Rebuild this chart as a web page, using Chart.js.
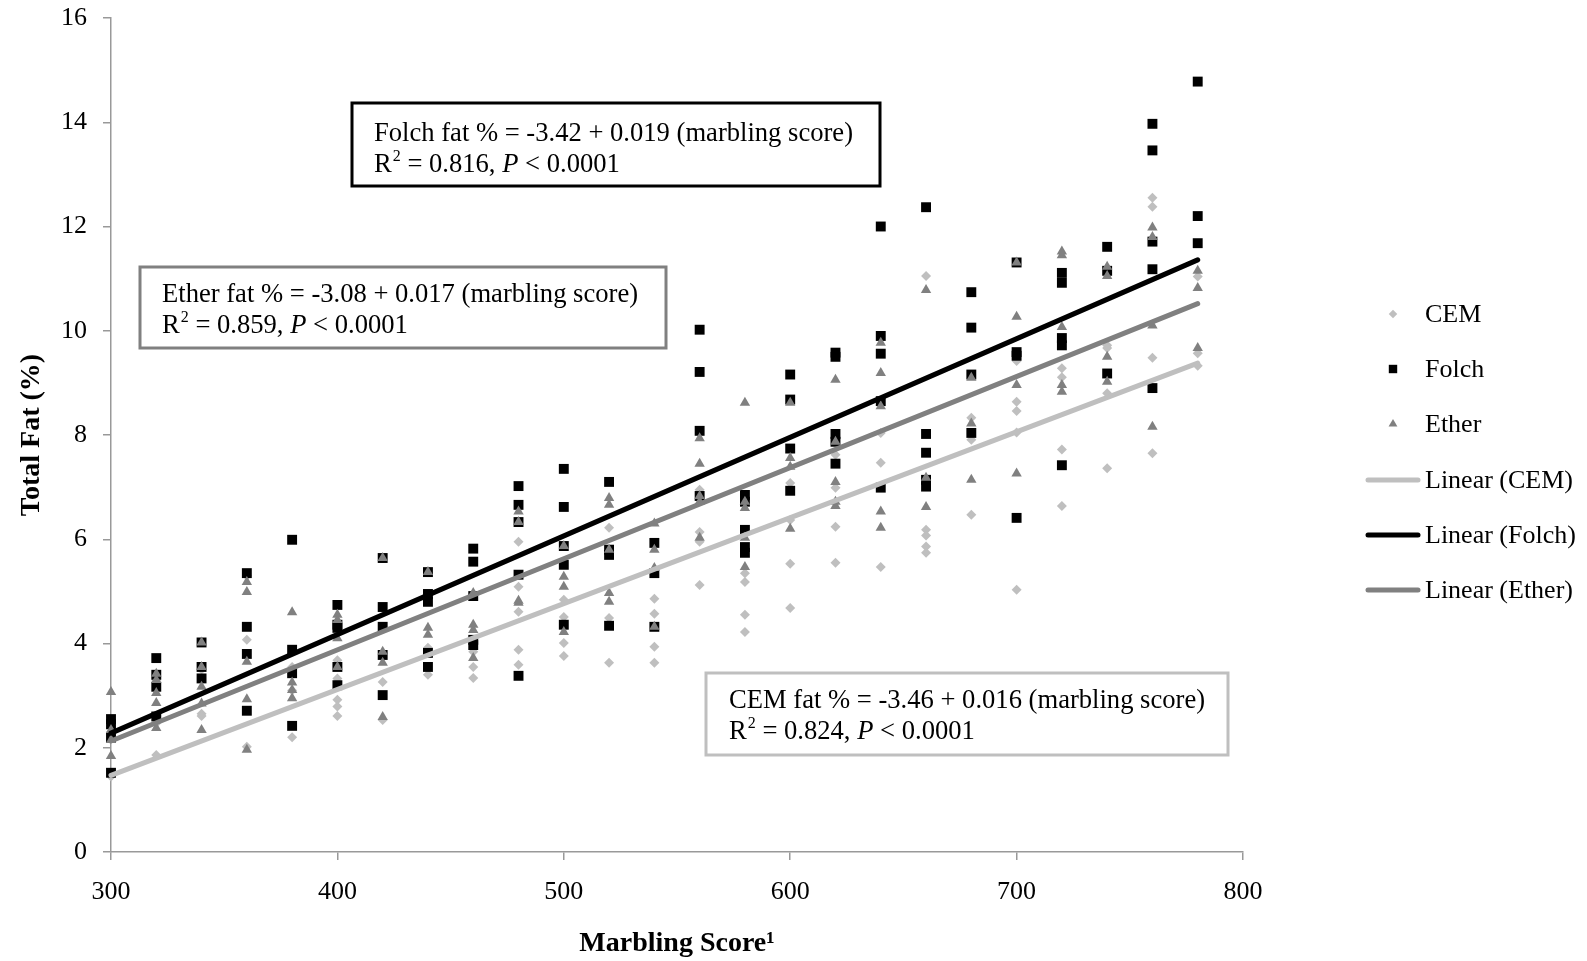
<!DOCTYPE html>
<html>
<head>
<meta charset="utf-8">
<script src="https://cdn.jsdelivr.net/npm/chart.js@4.4.1/dist/chart.umd.min.js"></script>
<style>
html,body{margin:0;padding:0;background:#fff;}
#wrap{width:1587px;height:961px;position:relative;}
</style>
</head>
<body>
<div id="wrap"><canvas id="c" width="1587" height="961"></canvas></div>
<script>
// ---- data ----
const marblingScores = [300,320,340,360,380,400,420,440,460,480,500,520,540,560,580,600,620,640,660,680,700,720,740,760,780];

const cemFat = [
  [1.45, 2.3],
  [3.3, 2.47, 1.86],
  [3.5, 2.65, 2.61],
  [5.3, 4.07, 2.02],
  [3.55, 3.1, 2.2],
  [3.68, 3.33, 2.92, 2.79, 2.61],
  [3.26, 2.53],
  [3.92, 3.4],
  [3.84, 3.55, 3.34],
  [5.95, 5.09, 4.61, 3.88, 3.59],
  [4.84, 4.51, 4.01, 3.76],
  [6.22, 4.49, 3.63],
  [4.86, 4.57, 3.94, 3.63],
  [6.95, 6.14, 5.95, 5.12],
  [5.35, 5.18, 4.55, 4.22],
  [7.08, 6.37, 5.53, 4.68],
  [7.62, 6.99, 6.24, 5.55],
  [8.04, 7.47, 5.47],
  [11.05, 6.18, 6.07, 5.86, 5.74],
  [8.33, 7.91, 6.47],
  [9.42, 8.64, 8.46, 8.05, 5.03],
  [9.28, 9.11, 7.72, 6.64],
  [9.72, 9.67, 8.8, 7.36],
  [12.55, 12.38, 9.48, 7.65],
  [11.04, 9.57, 9.33]
];

const folchFat = [
  [2.55, 2.45, 2.19, 1.52],
  [3.72, 3.4, 3.17, 2.6],
  [4.02, 3.55, 3.33],
  [5.35, 4.32, 3.8, 2.71],
  [5.99, 3.88, 3.43, 2.42],
  [4.74, 4.36, 4.3, 3.55, 3.2],
  [5.64, 4.7, 4.32, 3.78, 3.01],
  [5.37, 4.95, 4.8, 3.82, 3.55],
  [5.82, 5.57, 4.91, 4.07, 3.97],
  [7.02, 6.66, 6.33, 5.32, 3.38],
  [7.35, 6.62, 5.87, 5.51, 4.36],
  [7.1, 5.8, 5.7, 4.34],
  [5.93, 5.35, 4.32],
  [10.02, 9.21, 8.08, 6.83],
  [6.85, 6.72, 6.18, 5.85, 5.74],
  [9.16, 8.68, 7.74, 6.93],
  [9.58, 9.5, 8.02, 7.87, 7.45],
  [12.0, 9.9, 9.56, 8.65, 6.99],
  [12.37, 8.02, 7.66, 7.14, 7.01],
  [10.74, 10.06, 9.16, 8.04],
  [11.31, 9.59, 9.52, 6.41],
  [11.11, 10.92, 9.86, 9.72, 7.42],
  [11.61, 11.15, 9.18],
  [13.97, 13.46, 11.71, 11.18, 8.9],
  [14.78, 12.2, 11.68]
];

const etherFat = [
  [3.07, 2.34, 2.15, 1.84],
  [3.42, 3.3, 3.05, 2.86, 2.38],
  [4.02, 3.55, 3.17, 2.85, 2.34],
  [5.18, 4.99, 3.65, 2.93, 1.96],
  [4.6, 3.25, 3.11, 2.95],
  [4.55, 4.45, 4.1, 3.55],
  [5.64, 3.84, 3.63, 2.59],
  [5.37, 4.3, 4.17],
  [4.97, 4.36, 4.26, 3.72],
  [6.53, 6.33, 4.82, 4.78],
  [5.87, 5.28, 5.09, 4.22],
  [6.79, 6.66, 5.8, 4.97, 4.8],
  [6.3, 5.8, 5.45, 4.32],
  [7.94, 7.45, 6.83, 6.72, 6.03],
  [8.62, 6.72, 6.6, 6.03, 5.47],
  [8.62, 7.56, 7.39, 6.2],
  [9.06, 7.87, 7.1, 6.72, 6.64],
  [9.77, 9.19, 8.55, 6.53, 6.22],
  [10.78, 7.18, 6.62],
  [9.1, 8.22, 7.14],
  [11.31, 10.27, 8.96, 7.26],
  [11.52, 11.45, 10.07, 8.96, 8.83],
  [11.23, 11.05, 9.5, 9.02],
  [11.98, 11.8, 10.1, 8.16],
  [11.15, 10.82, 9.67]
];

// trend line end points (x = first / last marbling score)
const trendX = [300, 780];
const cemTrend = [1.47, 9.38];
const folchTrend = [2.28, 11.36];
const etherTrend = [2.13, 10.52];

const seriesNames = ['CEM', 'Folch', 'Ether'];
const trendNames = ['Linear (CEM)', 'Linear (Folch)', 'Linear (Ether)'];
const equationTexts = [
  'Folch fat % = -3.42 + 0.019 (marbling score)',
  'Ether fat % = -3.08 + 0.017 (marbling score)',
  'CEM fat % = -3.46 + 0.016 (marbling score)'
];
const r2Texts = ['0.816', '0.859', '0.824'];
const pTexts = ['< 0.0001', '< 0.0001', '< 0.0001'];
const xTicks = [300, 400, 500, 600, 700, 800];
const yTicks = [0, 2, 4, 6, 8, 10, 12, 14, 16];
const xAxisTitle = 'Marbling Score\u00B9';
const yAxisTitle = 'Total Fat (%)';

// ---- build chart data ----
function toPoints(cols) {
  const pts = [];
  marblingScores.forEach((s, i) => cols[i].forEach(v => pts.push({x: s, y: v})));
  return pts;
}
function trendPoints(ys) { return trendX.map((x, i) => ({x: x, y: ys[i]})); }

const FONT = "'Liberation Serif', 'Times New Roman', serif";
const C_CEM = '#bfbfbf', C_FOLCH = '#000000', C_ETHER = '#808080';

const datasets = [
  {label: seriesNames[0], data: toPoints(cemFat), pointStyle: 'rectRot', pointRadius: 5, backgroundColor: C_CEM, borderColor: C_CEM, pointBorderWidth: 0, showLine: false, order: 5, clip: false},
  {label: seriesNames[1], data: toPoints(folchFat), pointStyle: 'rect', pointRadius: 7, backgroundColor: C_FOLCH, borderColor: C_FOLCH, pointBorderWidth: 0, showLine: false, order: 4, clip: false},
  {label: seriesNames[2], data: toPoints(etherFat), pointStyle: 'triangle', pointRadius: 6, backgroundColor: C_ETHER, borderColor: C_ETHER, pointBorderWidth: 0, showLine: false, order: 3, clip: false},
  {label: trendNames[0], data: trendPoints(cemTrend), showLine: true, pointRadius: 0, borderColor: C_CEM, borderWidth: 5, borderCapStyle: 'round', fill: false, order: 2, clip: false},
  {label: trendNames[1], data: trendPoints(folchTrend), showLine: true, pointRadius: 0, borderColor: C_FOLCH, borderWidth: 5, borderCapStyle: 'round', fill: false, order: 1, clip: false},
  {label: trendNames[2], data: trendPoints(etherTrend), showLine: true, pointRadius: 0, borderColor: C_ETHER, borderWidth: 5, borderCapStyle: 'round', fill: false, order: 0, clip: false}
];

// ---- annotation boxes + legend plugin ----
const boxStyles = [
  {x: 352, y: 103, w: 528, h: 83, color: '#000000', tx: 374, b1: 141, b2: 172},
  {x: 140, y: 267, w: 526, h: 81, color: '#808080', tx: 162, b1: 302, b2: 333},
  {x: 706, y: 673, w: 522, h: 82, color: '#bfbfbf', tx: 729, b1: 708, b2: 739}
];
const ANN = 26.6;

const extrasPlugin = {
  id: 'extras',
  afterDraw(chart) {
    const ctx = chart.ctx;
    ctx.save();
    // annotation boxes
    boxStyles.forEach((b, i) => {
      ctx.fillStyle = '#fff';
      ctx.fillRect(b.x, b.y, b.w, b.h);
      ctx.lineWidth = 3;
      ctx.strokeStyle = b.color;
      ctx.strokeRect(b.x, b.y, b.w, b.h);
      ctx.fillStyle = '#000';
      ctx.textBaseline = 'alphabetic';
      ctx.textAlign = 'left';
      ctx.font = ANN + 'px ' + FONT;
      ctx.fillText(equationTexts[i], b.tx, b.b1);
      let x = b.tx;
      ctx.fillText('R', x, b.b2); x += ctx.measureText('R').width;
      ctx.font = '16px ' + FONT;
      ctx.fillText('2', x + 1, b.b2 - 11); x += ctx.measureText('2').width + 1;
      ctx.font = ANN + 'px ' + FONT;
      const mid = ' = ' + r2Texts[i] + ', ';
      ctx.fillText(mid, x, b.b2); x += ctx.measureText(mid).width;
      ctx.font = 'italic ' + ANN + 'px ' + FONT;
      ctx.fillText('P', x, b.b2); x += ctx.measureText('P').width;
      ctx.font = ANN + 'px ' + FONT;
      ctx.fillText(' ' + pTexts[i], x, b.b2);
    });
    // legend
    const ys = [314, 369, 424, 480, 535, 590];
    const helpers = Chart.helpers;
    chart.data.datasets.forEach((ds, i) => {
      const y = ys[i];
      if (!ds.showLine) {
        ctx.fillStyle = ds.backgroundColor;
        ctx.strokeStyle = ds.borderColor;
        helpers.drawPoint(ctx, {pointStyle: ds.pointStyle, radius: ds.pointRadius * 0.85, rotation: 0, borderWidth: 0}, 1393, y);
      } else {
        ctx.beginPath();
        ctx.lineWidth = 5;
        ctx.lineCap = 'round';
        ctx.strokeStyle = ds.borderColor;
        ctx.moveTo(1368, y);
        ctx.lineTo(1418, y);
        ctx.stroke();
      }
      ctx.fillStyle = '#000';
      ctx.font = '26px ' + FONT;
      ctx.textBaseline = 'middle';
      ctx.textAlign = 'left';
      ctx.fillText(ds.label, 1425, y + 1);
    });
    ctx.restore();
  }
};

new Chart(document.getElementById('c'), {
  type: 'scatter',
  data: {datasets: datasets},
  plugins: [extrasPlugin],
  options: {
    responsive: false,
    animation: false,
    layout: {padding: {top: 18, right: 344, left: 0, bottom: 0}},
    plugins: {legend: {display: false}, tooltip: {enabled: false}},
    scales: {
      x: {
        type: 'linear', min: 300, max: 800,
        afterBuildTicks: s => { s.ticks = xTicks.map(v => ({value: v})); },
        afterFit: s => { s.height = 109; s.paddingLeft = 0; s.paddingRight = 0; },
        grid: {display: true, drawOnChartArea: false, drawTicks: true, tickLength: 8, color: '#999', lineWidth: 1.5},
        border: {display: true, color: '#999', width: 1.5},
        ticks: {color: '#000', font: {family: FONT, size: 26}, padding: 17, maxRotation: 0},
        title: {display: true, text: xAxisTitle, color: '#000', font: {family: FONT, size: 28, weight: 'bold'}, padding: {top: 0, bottom: 0}}
      },
      y: {
        type: 'linear', min: 0, max: 16,
        afterBuildTicks: s => { s.ticks = yTicks.map(v => ({value: v})); },
        afterFit: s => { s.width = 111; s.paddingTop = 0; s.paddingBottom = 0; },
        grid: {display: true, drawOnChartArea: false, drawTicks: true, tickLength: 8, color: '#999', lineWidth: 1.5},
        border: {display: true, color: '#999', width: 1.5},
        ticks: {color: '#000', font: {family: FONT, size: 26}, padding: 16},
        title: {display: true, text: yAxisTitle, color: '#000', font: {family: FONT, size: 28, weight: 'bold'}, padding: {top: 15, bottom: 0}}
      }
    }
  }
});
</script>
</body>
</html>
